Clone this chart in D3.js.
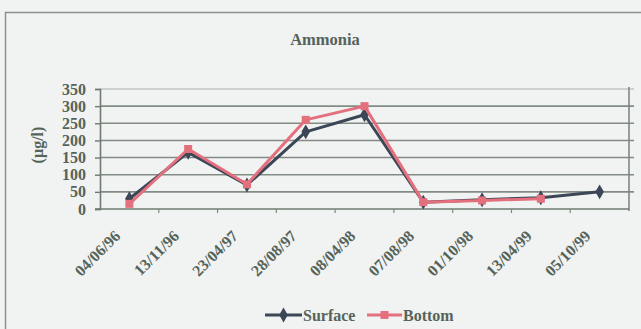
<!DOCTYPE html>
<html>
<head>
<meta charset="utf-8">
<script src="https://cdn.jsdelivr.net/npm/d3@7/dist/d3.min.js"></script>
<style>
  html, body { margin: 0; padding: 0; background: #f1f2f2; }
  svg { display: block; }
  text { font-family: "Liberation Serif", "Times New Roman", serif; font-weight: bold; fill: #55645a; }
</style>
</head>
<body>
<svg id="chart" width="641" height="329"></svg>
<script>
// Sampling dates (category axis)
const categories = ["04/06/96", "13/11/96", "23/04/97", "28/08/97", "08/04/98", "07/08/98", "01/10/98", "13/04/99", "05/10/99"];
// Ammonia concentration, µg/l
const surfaceValues = [30, 165, 70, 225, 275, 20, 27, 33, 50];
const bottomValues  = [15, 175, 72, 260, 300, 20, 25, 30, null];
const yTicks = [0, 50, 100, 150, 200, 250, 300, 350];

const series = [
  { name: "Surface", values: surfaceValues, color: "#3b4656", marker: "diamond" },
  { name: "Bottom",  values: bottomValues,  color: "#e46f7d", marker: "square" }
];

const svg = d3.select("#chart");
const plot = { left: 100, right: 629, top: 89, bottom: 209 };

// Chart frame
svg.append("rect")
  .attr("x", 5.5).attr("y", 12.5)
  .attr("width", 700).attr("height", 400)
  .attr("fill", "#f1f2f2")
  .attr("stroke", "#8a948c").attr("stroke-width", 1.5);

const x = d3.scaleBand().domain(categories).range([plot.left, plot.right]).padding(0);
const y = d3.scaleLinear().domain([0, 350]).range([plot.bottom, plot.top]);
const cx = d => x(d) + x.bandwidth() / 2;

// Title
svg.append("text")
  .attr("x", 325).attr("y", 45)
  .attr("text-anchor", "middle")
  .style("font-size", "16.5px")
  .text("Ammonia");

// Horizontal gridlines
svg.append("g").selectAll("line")
  .data(yTicks.filter(t => t > 0))
  .join("line")
  .attr("x1", plot.left).attr("x2", plot.right + 5)
  .attr("y1", d => y(d)).attr("y2", d => y(d))
  .attr("stroke", d => d === 350 ? "#a9b0aa" : "#828c84")
  .attr("stroke-width", d => d === 350 ? 1 : 1.6);

// Right border of plot area
svg.append("line")
  .attr("x1", plot.right).attr("x2", plot.right)
  .attr("y1", plot.top - 2).attr("y2", plot.bottom + 2)
  .attr("stroke", "#7e8880").attr("stroke-width", 1.6);

// Y axis
const yAxis = d3.axisLeft(y).tickValues(yTicks).tickSize(5).tickPadding(9);
const yg = svg.append("g").attr("transform", `translate(${plot.left},0)`).call(yAxis);
yg.select(".domain").attr("stroke", "#6f7a72").attr("stroke-width", 1.6);
yg.selectAll(".tick line").attr("stroke", "#6f7a72").attr("stroke-width", 1.4);
yg.selectAll(".tick text")
  .style("font-size", "16px")
  .style("font-family", "'Liberation Serif', serif")
  .style("font-weight", "bold")
  .attr("fill", "#55645a");

// X axis line and tick marks at category boundaries
svg.append("line")
  .attr("x1", plot.left - 5).attr("x2", plot.right)
  .attr("y1", plot.bottom).attr("y2", plot.bottom)
  .attr("stroke", "#6f7a72").attr("stroke-width", 1.6);
svg.append("g").selectAll("line")
  .data(categories.slice(1))
  .join("line")
  .attr("x1", d => x(d)).attr("x2", d => x(d))
  .attr("y1", plot.bottom).attr("y2", plot.bottom + 4)
  .attr("stroke", "#7e8880").attr("stroke-width", 1.2);

// Rotated date labels
svg.append("g").selectAll("text")
  .data(categories)
  .join("text")
  .attr("text-anchor", "end")
  .attr("transform", d => `translate(${cx(d) - 8},${237}) rotate(-45)`)
  .style("font-size", "16px")
  .text(d => d);

// Y axis title
svg.append("text")
  .attr("transform", "translate(43,145) rotate(-90)")
  .attr("text-anchor", "middle")
  .style("font-size", "16px")
  .text("(µg/l)");

// Series lines and markers
const line = d3.line()
  .defined(d => d.v != null)
  .x(d => cx(d.c))
  .y(d => y(d.v));

const diamond = d3.symbol().type(d3.symbolDiamond).size(64);
const square = d3.symbol().type(d3.symbolSquare).size(64);

series.forEach(s => {
  const pts = categories.map((c, i) => ({ c, v: s.values[i] }));
  svg.append("path")
    .datum(pts)
    .attr("fill", "none")
    .attr("stroke", s.color)
    .attr("stroke-width", 3)
    .attr("stroke-linejoin", "round")
    .attr("d", line);
  svg.append("g").selectAll("path")
    .data(pts.filter(d => d.v != null))
    .join("path")
    .attr("transform", d => `translate(${cx(d.c)},${y(d.v)})`)
    .attr("d", s.marker === "diamond" ? diamond : square)
    .attr("fill", s.color);
});

// Legend
const legend = [
  { s: series[0], x0: 265, x1: 302, tx: 303 },
  { s: series[1], x0: 367, x1: 402, tx: 403 }
];
const ly = 315;
legend.forEach(l => {
  svg.append("line")
    .attr("x1", l.x0).attr("x2", l.x1)
    .attr("y1", ly).attr("y2", ly)
    .attr("stroke", l.s.color).attr("stroke-width", 3);
  svg.append("path")
    .attr("transform", `translate(${(l.x0 + l.x1) / 2},${ly})`)
    .attr("d", l.s.marker === "diamond" ? diamond : square)
    .attr("fill", l.s.color);
  svg.append("text")
    .attr("x", l.tx).attr("y", ly + 5.5)
    .style("font-size", "16px")
    .text(l.s.name);
});
</script>
</body>
</html>
